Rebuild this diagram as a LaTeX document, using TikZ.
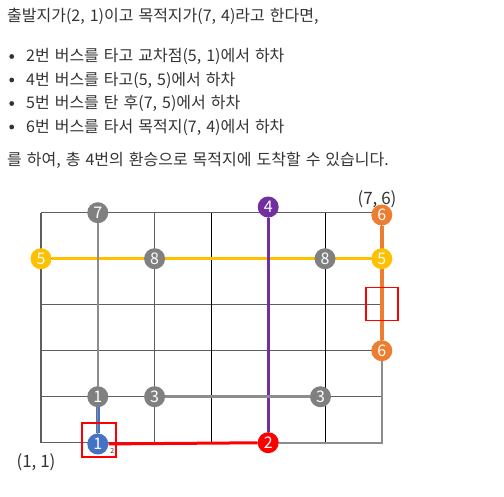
\documentclass[tikz,border=0pt]{standalone}
\usepackage{fontspec}
\setmainfont{Noto Sans CJK KR}
\usetikzlibrary{positioning}

\definecolor{txtgray}{HTML}{333333}
\definecolor{stopgray}{HTML}{808080}
\definecolor{gridgray}{HTML}{5E5E5E}
\definecolor{routegray}{HTML}{8C8C8C}
\definecolor{buspurple}{HTML}{7030A0}
\definecolor{busorange}{HTML}{ED7D31}
\definecolor{busyellow}{HTML}{FFC000}
\definecolor{busblue}{HTML}{4472C4}

\newcommand{\parafont}{\fontsize{16pt}{19pt}\selectfont\spaceskip 5pt\relax}

\pgfdeclarelayer{gridlayer}
\pgfdeclarelayer{routelayer}
\pgfsetlayers{gridlayer,routelayer,main}

\begin{document}
\begin{tikzpicture}[
    x=1pt, y=-1pt,
    para/.style={anchor=base west, inner sep=0pt, text=txtgray, font=\parafont},
    coord_text/.style={anchor=base, inner sep=0pt, text=txtgray, font=\fontsize{17pt}{17pt}\selectfont},
    busstop/.style={circle, fill=#1, text=white, minimum size=21pt, inner sep=0pt, font=\fontsize{16pt}{16pt}\selectfont},
    gridline/.style={line width=1.3pt, draw=gridgray},
    route/.style={line width=#1},
    redbox/.style={draw=red, line width=1.5pt, inner sep=0pt}
]
\useasboundingbox (0,0) rectangle (504,496);

%설명 문장
\node[para] (intro) at (7,21) {출발지가(2, 1)이고 목적지가(7, 4)라고 한다면,};
\node[para] (item1) at (26,61.5) {2번 버스를 타고 교차점(5, 1)에서 하차};
\node[para] (item2) at (26,85) {4번 버스를 타고(5, 5)에서 하차};
\node[para] (item3) at (26,108.5) {5번 버스를 탄 후(7, 5)에서 하차};
\node[para] (item4) at (26,132) {6번 버스를 타서 목적지(7, 4)에서 하차};
\node[para] (outro) at (7,165) {를 하여, 총 4번의 환승으로 목적지에 도착할 수 있습니다.};
\fill[txtgray] (11.7,56.5) circle (2.4pt);
\fill[txtgray] (11.7,80) circle (2.4pt);
\fill[txtgray] (11.7,103.5) circle (2.4pt);
\fill[txtgray] (11.7,127) circle (2.4pt);

% 좌표 라벨
\node[coord_text] (lbl76) at (377,204) {(7, 6)};
\node[coord_text] (lbl11) at (36,467) {(1, 1)};

\begin{scope}[shift={(-15.8,488.7)}, x=56.8pt, y=46pt]

% 격자
\begin{pgfonlayer}{gridlayer}
  \foreach \j in {1,...,6}
    \draw[gridline] (1,\j) -- (7,\j);
  \foreach \i in {1,2,3,5,7}
    \draw[gridline] (\i,1) -- (\i,6);
  \foreach \i in {4,6}
    \draw[gridline, line width=1pt, draw=black] (\i,1) -- (\i,6);
\end{pgfonlayer}

% 정류장
\node[busstop=stopgray] (g7) at (2,6) {7};
\node[busstop=buspurple] (p4) at ([yshift=5.7pt]5,6) {4};
\node[busstop=busorange] (o6t) at ([yshift=-2.3pt]7,6) {6};
\node[busstop=busyellow] (y5w) at (1,5) {5};
\node[busstop=stopgray] (g8w) at (3,5) {8};
\node[busstop=stopgray] (g8e) at (6,5) {8};
\node[busstop=busyellow] (y5e) at (7,5) {5};
\node[busstop=busorange] (o6b) at (7,3) {6};
\node[busstop=stopgray] (g1) at (2,2) {1};
\node[busstop=stopgray] (g3w) at (3,2) {3};
\node[busstop=stopgray] (g3e) at ([xshift=-4.5pt]6,2) {3};
\node[busstop=busblue] (b1) at ([yshift=-1.3pt]2,1) {1};
\node[busstop=red] (r2) at (5,1) {2};
\node[inner sep=0pt, text=txtgray, font=\fontsize{7pt}{7pt}\selectfont] (sub2) at ([xshift=14.5pt, yshift=-8pt]2,1) {2};

% 노선
\begin{pgfonlayer}{routelayer}
  \draw[route=3pt, draw=busyellow] (y5w) -- (y5e);
  \draw[route=3pt, draw=buspurple] (p4) -- (r2);
  \draw[route=4pt, draw=busorange] (o6t) -- (o6b);
  \draw[route=3pt, draw=red] (b1) -- (r2);
  \draw[route=2.5pt, draw=routegray] (g7) -- (g1);
  \draw[route=2.5pt, draw=routegray] (g3w) -- (g3e);
  \draw[route=1.8pt, draw=routegray] (r2) -| (o6b);
  \draw[line width=1.2pt, draw=busblue, double=routegray, double distance=1.3pt] (g1) -- (b1);
\end{pgfonlayer}

% 표시 상자
\node[redbox, minimum width=34pt, minimum height=34pt] (box1) at ([xshift=1pt, yshift=2.7pt]2,1) {};
\node[redbox, minimum width=32pt, minimum height=33pt] (box2) at ([yshift=0.5pt]7,4) {};

\end{scope}
\end{tikzpicture}
\end{document}
